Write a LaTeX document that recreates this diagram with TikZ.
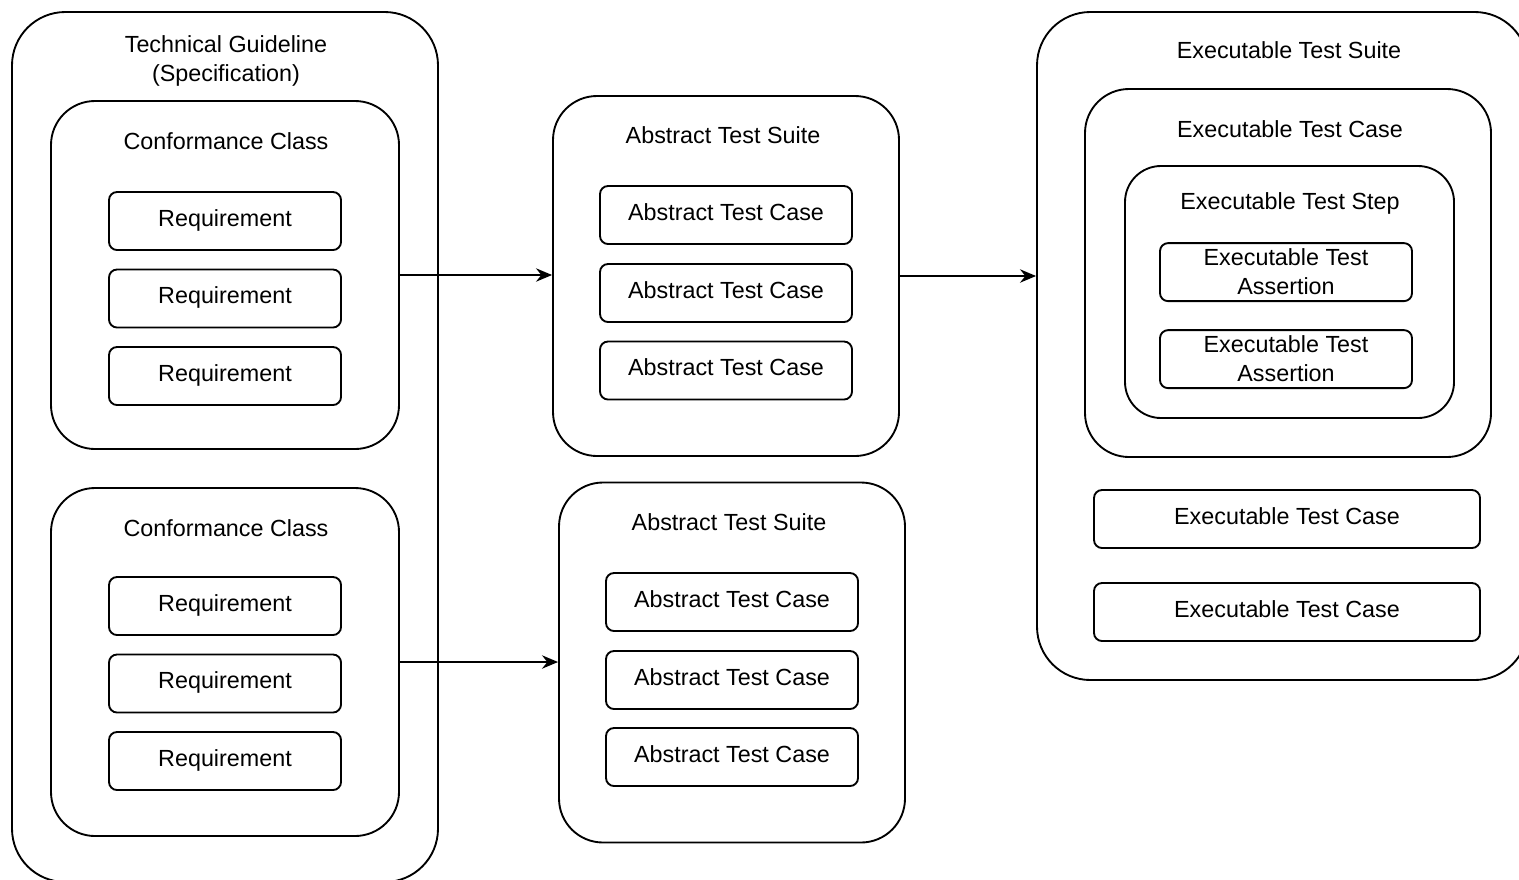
\documentclass[tikz,border=0pt]{standalone}
\usepackage{fontspec}
\setmainfont{Liberation Sans}
\usetikzlibrary{arrows.meta}
\begin{document}
\begin{tikzpicture}[x=0.75pt, y=-0.75pt, line width=1.4pt,
        font=\fontsize{17.5}{21.75}\selectfont,
        outer box/.style={draw, rounded corners=40pt, inner sep=0pt},
        group box/.style={draw, rounded corners=33pt, inner sep=0pt},
        item box/.style={draw, rounded corners=6pt, minimum width=174pt, minimum height=43.5pt, inner sep=0pt,
            text height=12.5pt, text depth=5pt},
        two line/.style={text height=, text depth=, align=center, yshift=-0.1pt},
        title/.style={inner sep=0pt, align=center},
        link/.style={-{Stealth[length=12pt, width=10pt]}}]
    \useasboundingbox (0,0) rectangle (1519,879);
    \clip (0,0) rectangle (1519,879);
    % technical guideline
    \node[outer box, minimum width=319.5pt, minimum height=652.5pt] (tg) at (225,447) {};
    \node[title] (tgt) at (226,61) {Technical Guideline\\(Specification)};
    \node[group box, minimum width=261pt, minimum height=261pt] (cc1) at (225,275) {};
    \node[title] (cc1t) at (226,141) {Conformance Class};
    \node[item box] (r1) at (225,221) {Requirement};
    \node[item box] (r2) at (225,298.5) {Requirement};
    \node[item box] (r3) at (225,376) {Requirement};
    \node[group box, minimum width=261pt, minimum height=261pt] (cc2) at (225,662) {};
    \node[title] (cc2t) at (226,528) {Conformance Class};
    \node[item box] (r4) at (225,606) {Requirement};
    \node[item box] (r5) at (225,683.5) {Requirement};
    \node[item box] (r6) at (225,761) {Requirement};
    % abstract test suites
    \node[group box, minimum width=259.5pt, minimum height=270pt] (ats1) at (726,276) {};
    \node[title] (ats1t) at (723,135) {Abstract Test Suite};
    \node[item box, minimum width=189pt] (a1) at (726,215) {Abstract Test Case};
    \node[item box, minimum width=189pt] (a2) at (726,293) {Abstract Test Case};
    \node[item box, minimum width=189pt] (a3) at (726,370.5) {Abstract Test Case};
    \node[group box, minimum width=259.5pt, minimum height=270pt] (ats2) at (732,662.5) {};
    \node[title] (ats2t) at (729,522) {Abstract Test Suite};
    \node[item box, minimum width=189pt] (a4) at (732,602) {Abstract Test Case};
    \node[item box, minimum width=189pt] (a5) at (732,680) {Abstract Test Case};
    \node[item box, minimum width=189pt] (a6) at (732,757) {Abstract Test Case};
    % executable test suite
    \node[outer box, minimum width=368.25pt, minimum height=501pt] (ets) at (1282.5,346) {};
    \node[title] (etst) at (1289,50) {Executable Test Suite};
    \node[group box, minimum width=304.5pt, minimum height=276pt] (etc1) at (1288,273) {};
    \node[title] (etc1t) at (1290,129) {Executable Test Case};
    \node[group box, rounded corners=27pt, minimum width=246.75pt, minimum height=189pt] (step) at (1289.5,292) {};
    \node[title] (stept) at (1290,203) {Executable Test Step};
    \node[item box, two line, minimum width=189pt] (e1) at (1286,272) {Executable Test\\Assertion};
    \node[item box, two line, minimum width=189pt] (e2) at (1286,359) {Executable Test\\Assertion};
    \node[item box, minimum width=289.5pt] (etc2) at (1287,519) {Executable Test Case};
    \node[item box, minimum width=289.5pt] (etc3) at (1287,612) {Executable Test Case};
    % links
    \draw[link] (cc1.east) -- (cc1.east -| ats1.west);
    \draw[link] (cc2.east) -- (cc2.east -| ats2.west);
    \draw[link] (ats1.east) -- (ats1.east -| ets.west);
\end{tikzpicture}
\end{document}
